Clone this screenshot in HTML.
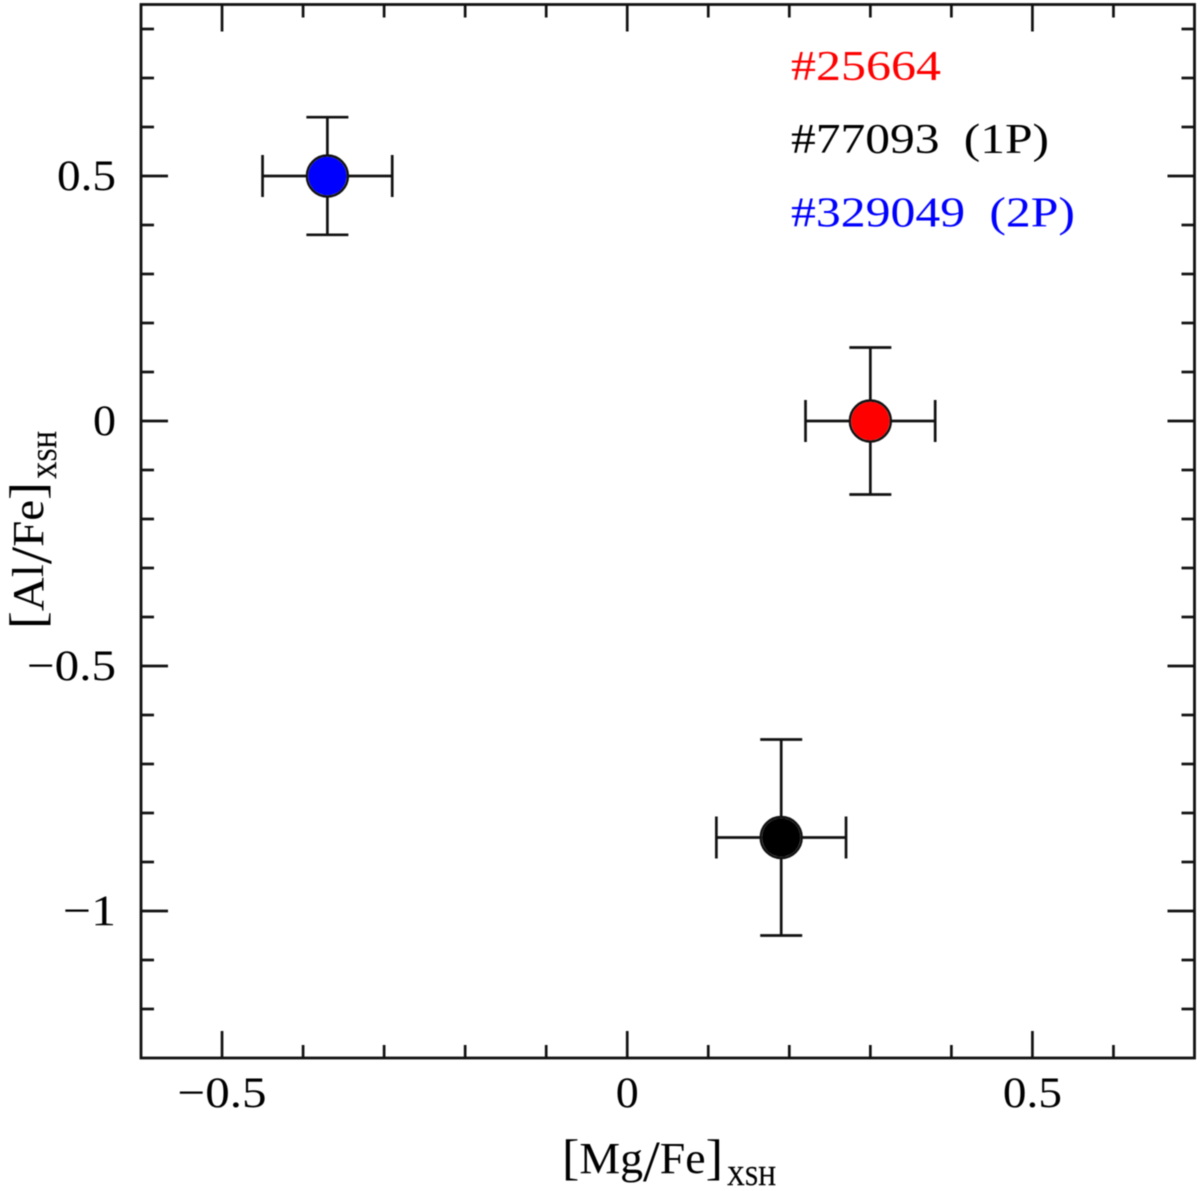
<!DOCTYPE html>
<html>
<head>
<meta charset="utf-8">
<title>[Al/Fe] vs [Mg/Fe]</title>
<style>
html,body{margin:0;padding:0;background:#fff;width:1200px;height:1191px;overflow:hidden}
svg{display:block;filter:blur(0.4px)}
text{font-family:"Liberation Serif",serif;fill:#000}
.legend-text{font-size:42px;word-spacing:10px}
</style>
</head>
<body>
<svg id="chart" xmlns="http://www.w3.org/2000/svg" width="1200" height="1191" viewBox="0 0 1200 1191">
  <rect x="0" y="0" width="1200" height="1191" fill="#fff"/>
  <g id="ticks"></g>
  <g id="tick-labels"></g>
  <g id="points"></g>
  <rect id="frame" fill="none" stroke="#111" stroke-width="2.8"/>
  <g>
    <text x="562" y="1173" font-size="44" textLength="161" lengthAdjust="spacingAndGlyphs"><tspan font-size="50" dy="1">[</tspan><tspan dy="-1">Mg</tspan><tspan font-size="58" dy="8">/</tspan><tspan dy="-8">Fe</tspan><tspan font-size="50" dy="1">]</tspan></text>
    <text x="727" y="1185" font-size="27" textLength="49" lengthAdjust="spacingAndGlyphs" stroke="#000" stroke-width="0.4">XSH</text>
  </g>
  <g>
    <text transform="translate(43,629) rotate(-90)" font-size="44" textLength="147" lengthAdjust="spacingAndGlyphs"><tspan font-size="50" dy="1">[</tspan><tspan dy="-1">Al</tspan><tspan font-size="58" dy="8">/</tspan><tspan dy="-8">Fe</tspan><tspan font-size="50" dy="1">]</tspan></text>
    <text transform="translate(56,479) rotate(-90)" font-size="27" textLength="48" lengthAdjust="spacingAndGlyphs" stroke="#000" stroke-width="0.4">XSH</text>
  </g>
  <g>
    <text class="legend-text" x="791" y="80" style="fill:#ff0000" textLength="150" lengthAdjust="spacingAndGlyphs">#25664</text>
    <text class="legend-text" x="791" y="153" style="fill:#000" textLength="258" lengthAdjust="spacingAndGlyphs">#77093 (1P)</text>
    <text class="legend-text" x="791" y="226.5" style="fill:#0000ff" textLength="284" lengthAdjust="spacingAndGlyphs">#329049 (2P)</text>
  </g>
</svg>
<script>
// ---- chart data ----
const stars = ['25664', '77093', '329049'];
const mgFe = [0.30, 0.19, -0.37];
const alFe = [0.00, -0.85, 0.50];
const mgFeErr = [0.08, 0.08, 0.08];
const alFeErr = [0.15, 0.20, 0.12];
const xMajorTicks = [-0.5, 0, 0.5];
const xMinorTicks = [-0.4, -0.3, -0.2, -0.1, 0.1, 0.2, 0.3, 0.4, 0.6];
const yMajorTicks = [-1, -0.5, 0, 0.5];
const yMinorTicks = [-1.2, -1.1, -0.9, -0.8, -0.7, -0.6, -0.4, -0.3, -0.2, -0.1, 0.1, 0.2, 0.3, 0.4, 0.6, 0.7, 0.8];
const xTickLabels = ['\u22120.5', '0', '0.5'];
const yTickLabels = ['\u22121', '\u22120.5', '0', '0.5'];
const xDomain = [-0.6, 0.7];
const yDomain = [-1.3, 0.85];

// ---- layout / style ----
const plot = { left: 141, right: 1194.5, top: 4.5, bottom: 1058 };
const starColor = { '25664': '#ff0000', '77093': '#000000', '329049': '#0000ff' };
const NS = 'http://www.w3.org/2000/svg';
const ink = '#111';
const lineWidth = 2.7;

function xScale(v) {
  return plot.left + (v - xDomain[0]) / (xDomain[1] - xDomain[0]) * (plot.right - plot.left);
}
function yScale(v) {
  return plot.bottom - (v - yDomain[0]) / (yDomain[1] - yDomain[0]) * (plot.bottom - plot.top);
}
function make(tag, attrs, parent) {
  const el = document.createElementNS(NS, tag);
  Object.keys(attrs).forEach(function (k) { el.setAttribute(k, attrs[k]); });
  parent.appendChild(el);
  return el;
}
function line(x1, y1, x2, y2, width, parent) {
  return make('line', { x1: x1, y1: y1, x2: x2, y2: y2, stroke: ink, 'stroke-width': width }, parent);
}

const frame = document.getElementById('frame');
frame.setAttribute('x', plot.left);
frame.setAttribute('y', plot.top);
frame.setAttribute('width', plot.right - plot.left);
frame.setAttribute('height', plot.bottom - plot.top);

const tickGroup = document.getElementById('ticks');
const labelGroup = document.getElementById('tick-labels');

function drawXTicks(values, len, kind) {
  values.forEach(function (v) {
    const x = xScale(v);
    const bottomTick = line(x, plot.bottom, x, plot.bottom - len, lineWidth, tickGroup);
    
    
    const topTick = line(x, plot.top, x, plot.top + len, lineWidth, tickGroup);
    
    
  });
}
function drawYTicks(values, len, kind) {
  values.forEach(function (v) {
    const y = yScale(v);
    const leftTick = line(plot.left, y, plot.left + len, y, lineWidth, tickGroup);
    
    
    const rightTick = line(plot.right, y, plot.right - len, y, lineWidth, tickGroup);
    
    
  });
}
drawXTicks(xMajorTicks, 27, 'major');
drawXTicks(xMinorTicks, 13, 'minor');
drawYTicks(yMajorTicks, 27, 'major');
drawYTicks(yMinorTicks, 13, 'minor');

function fitWidth(label) {
  // computer-modern style digits are wider than Liberation Serif
  let w = 0;
  for (const c of label) {
    w += c === '\u2212' ? 30 : c === '.' ? 13 : 23;
  }
  return w;
}

xMajorTicks.forEach(function (v, i) {
  const w = fitWidth(xTickLabels[i]);
  const t = make('text', {
    x: xScale(v) - w / 2,
    y: 1107,
    'font-size': 43,
    textLength: w,
    lengthAdjust: 'spacingAndGlyphs'
  }, labelGroup);
  t.textContent = xTickLabels[i];
  
  
});

yMajorTicks.forEach(function (v, i) {
  const w = fitWidth(yTickLabels[i]);
  const t = make('text', {
    x: 116 - w,
    y: yScale(v) + 14,
    'font-size': 43,
    textLength: w,
    lengthAdjust: 'spacingAndGlyphs'
  }, labelGroup);
  t.textContent = yTickLabels[i];
  
  
});

const pointGroup = document.getElementById('points');
stars.forEach(function (star, i) {
  const g = make('g', {}, pointGroup);
  
  
  const cx = xScale(mgFe[i]);
  const cy = yScale(alFe[i]);
  const x0 = xScale(mgFe[i] - mgFeErr[i]);
  const x1 = xScale(mgFe[i] + mgFeErr[i]);
  const y0 = yScale(alFe[i] - alFeErr[i]);
  const y1 = yScale(alFe[i] + alFeErr[i]);
  const cap = 21;

  const hBar = line(x0, cy, x1, cy, lineWidth, g);
  
  
  const vBar = line(cx, y0, cx, y1, lineWidth, g);
  
  
  const capL = line(x0, cy - cap, x0, cy + cap, lineWidth, g);
  
  
  const capR = line(x1, cy - cap, x1, cy + cap, lineWidth, g);
  
  
  const capB = line(cx - cap, y0, cx + cap, y0, lineWidth, g);
  
  
  const capT = line(cx - cap, y1, cx + cap, y1, lineWidth, g);
  
  

  const outline = make('circle', { cx: cx, cy: cy, r: 20.5, fill: '#fff', stroke: ink, 'stroke-width': 2.4 }, g);
  
  
  const dot = make('circle', { cx: cx, cy: cy, r: 19.2, fill: starColor[star] }, g);
  
  
});
</script>
</body>
</html>
